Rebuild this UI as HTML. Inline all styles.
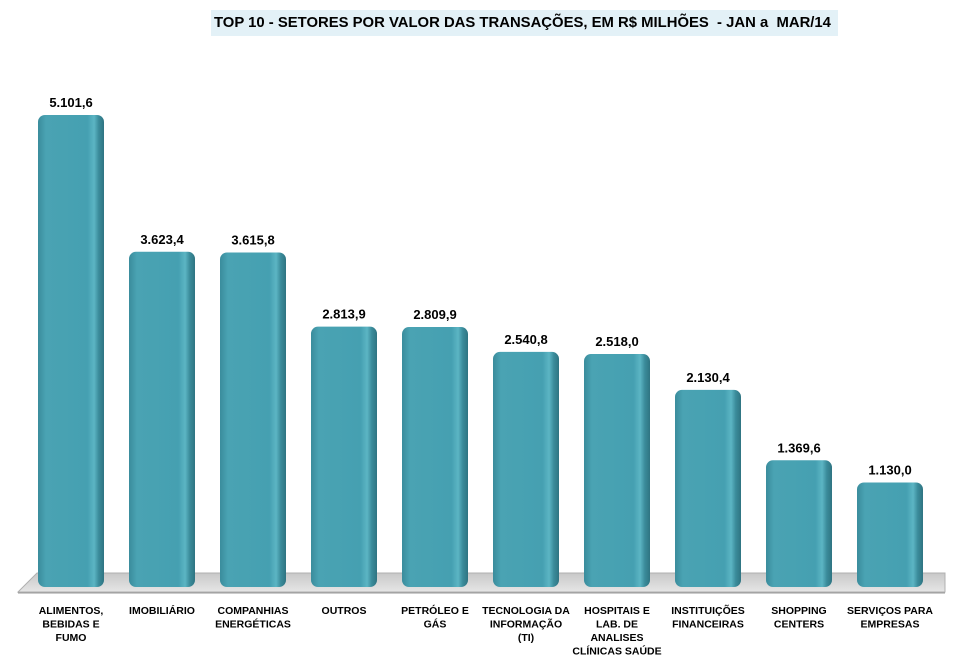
<!DOCTYPE html>
<html><head><meta charset="utf-8"><style>
body{margin:0;background:#fff;width:953px;height:667px;overflow:hidden;font-family:"Liberation Sans",sans-serif}
#title{position:absolute;left:211px;top:10px;width:627px;height:26px;background:#e3f1f7;color:#000}
#title span{position:absolute;left:3px;top:0;white-space:nowrap;font-weight:bold;font-size:15px;line-height:26px;letter-spacing:0;transform-origin:0 50%;transform:scaleX(0.99)}
</style></head><body>
<div id="title"><span>TOP 10 - SETORES POR VALOR DAS TRANSAÇÕES, EM R$ MILHÕES &nbsp;- JAN a &nbsp;MAR/14</span></div>
<svg id="chart" width="953" height="667" style="position:absolute;left:0;top:0">
<defs>
<linearGradient id="bg" x1="0" x2="1" y1="0" y2="0">
<stop offset="0" stop-color="#3a8c9c"/><stop offset="0.12" stop-color="#4aa3b3"/><stop offset="0.75" stop-color="#45a0b1"/><stop offset="0.85" stop-color="#5cb5c4"/><stop offset="0.92" stop-color="#3b8c9b"/><stop offset="1" stop-color="#2f7482"/>
</linearGradient>
<linearGradient id="fl" x1="0" x2="0" y1="0" y2="1"><stop offset="0" stop-color="#c8c8c8"/><stop offset="1" stop-color="#e6e6e6"/></linearGradient>
</defs>
<polygon points="37,573 945,573 945,592 18,592" fill="url(#fl)" stroke="#b0b0b0" stroke-width="1"/>
<line x1="18" y1="593" x2="945" y2="593" stroke="#999"/>
<g id="bars"></g>
</svg>
<script>
const categories=[["ALIMENTOS,","BEBIDAS E","FUMO"],["IMOBILIÁRIO"],["COMPANHIAS","ENERGÉTICAS"],["OUTROS"],["PETRÓLEO E","GÁS"],["TECNOLOGIA DA","INFORMAÇÃO","(TI)"],["HOSPITAIS E","LAB. DE","ANALISES","CLÍNICAS SAÚDE"],["INSTITUIÇÕES","FINANCEIRAS"],["SHOPPING","CENTERS"],["SERVIÇOS PARA","EMPRESAS"]];
const values=[5101.6,3623.4,3615.8,2813.9,2809.9,2540.8,2518.0,2130.4,1369.6,1130.0];
const valueLabels=["5.101,6","3.623,4","3.615,8","2.813,9","2.809,9","2.540,8","2.518,0","2.130,4","1.369,6","1.130,0"];
const NS="http://www.w3.org/2000/svg";
const base=587,scale=472/5101.6;
function xc(i){return 71+i*91;}
function y(v){return base-v*scale;}
const g=document.getElementById('bars');
values.forEach((v,i)=>{
  const r=document.createElementNS(NS,'rect');
  
  
  r.setAttribute('x',xc(i)-33);r.setAttribute('y',y(v));
  r.setAttribute('width',66);r.setAttribute('height',base-y(v));
  r.setAttribute('rx',7);r.setAttribute('fill','url(#bg)');
  g.appendChild(r);
  const t=document.createElementNS(NS,'text');
  
  
  t.setAttribute('x',xc(i));t.setAttribute('y',y(v)-8);
  t.setAttribute('text-anchor','middle');t.setAttribute('font-weight','bold');t.setAttribute('font-size','13');
  t.textContent=valueLabels[i];g.appendChild(t);
  categories[i].forEach((line,j)=>{
    const c=document.createElementNS(NS,'text');
    
    
    c.setAttribute('x',xc(i));c.setAttribute('y',614+j*13.5);
    c.setAttribute('text-anchor','middle');c.setAttribute('font-weight','bold');c.setAttribute('font-size','10.5');
    c.textContent=line;g.appendChild(c);
  });
});
</script>
</body></html>
